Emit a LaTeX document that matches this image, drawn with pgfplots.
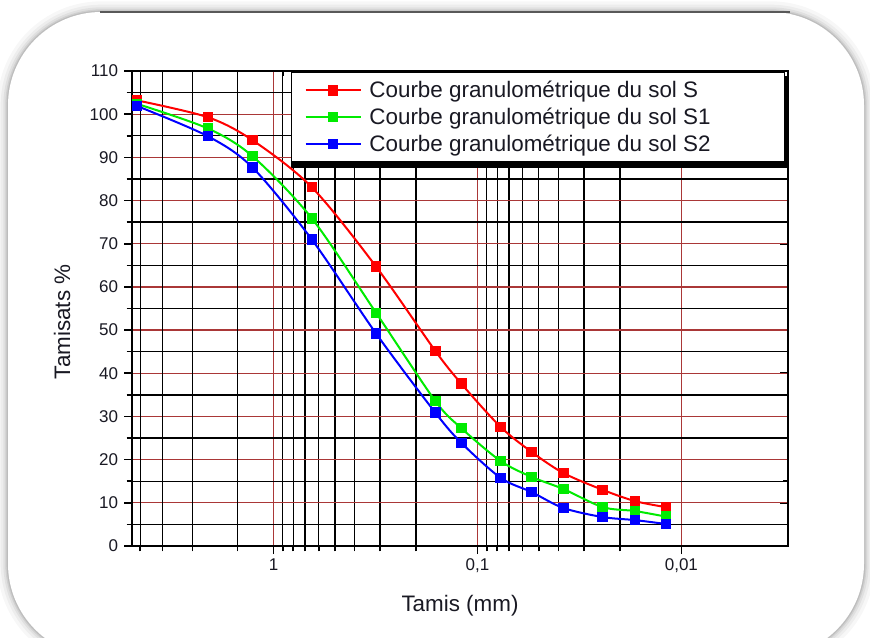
\documentclass[border=0pt]{standalone}
\usepackage{fontspec}
\setmainfont{Liberation Sans}
\usepackage{pgfplots}
\usepackage{pgfplotstable}
\pgfplotsset{compat=1.18}

\definecolor{gridred}{RGB}{170,55,55}
\definecolor{cS}{RGB}{255,0,0}
\definecolor{cSa}{RGB}{0,235,0}
\definecolor{cSb}{RGB}{0,0,255}
\definecolor{txt}{RGB}{25,25,35}

% tamis (mm) vs tamisats (%)
\pgfplotstableread{
d      S     S1    S2
4.67   103.2 102.4 101.9
2.10   99.3  96.7  94.9
1.27   94.0  90.3  87.7
0.649  83.1  75.9  71.0
0.314  64.7  54.0  49.2
0.161  45.2  33.6  30.9
0.120  37.6  27.3  23.9
0.0771 27.6  19.7  15.8
0.0543 21.8  16.0  12.5
0.0379 16.9  13.2  8.8
0.0243 13.0  9.0   6.7
0.0169 10.4  8.1   6.0
0.0119 9.0   6.8   5.1
}\granulo

\begin{document}
\begin{tikzpicture}[x=0.75pt,y=0.75pt]
\useasboundingbox (0,0) rectangle (870,637);
\fill[white] (0,0) rectangle (870,637);
% panel with soft shadow
\foreach \w/\o in {16/0.03,11/0.04,7/0.05,4/0.07,2/0.09}{
  \draw[black, opacity=\o, line width=\w pt, rounded corners=70pt] (8,-20) rectangle (864,625);
}
\fill[white, rounded corners=70pt] (8,-20) rectangle (864,625);
\draw[black!65, line width=1.2pt] (100,625) -- (790,625);

% top / right ticks pointing inwards
\begin{axis}[
  at={(99pt,68.25pt)}, anchor=south west,
  scale only axis, width=492pt, height=356.25pt,
  xmode=log, x dir=reverse,
  xmin=0.003, xmax=4.94, ymin=0, ymax=110,
  ytick={0,10,...,110}, minor y tick num=1,
  xtick={0.01,0.1,1},
  axis line style={line width=1.3pt},
  every tick/.style={black, line width=1.2pt},
  major tick length=6pt, minor tick length=4pt,
  tick align=inside, xtick pos=right, ytick pos=right,
  xticklabels={}, yticklabels={},
]
\end{axis}

\begin{axis}[
  at={(99pt,68.25pt)}, anchor=south west,
  scale only axis, width=492pt, height=356.25pt,
  xmode=log, x dir=reverse,
  xmin=0.003, xmax=4.94, ymin=0, ymax=110,
  ytick={0,10,...,110}, minor y tick num=1,
  xtick={0.01,0.1,1},
  axis line style={line width=1.3pt},
  every tick/.style={black, line width=1.2pt},
  major tick length=6pt, minor tick length=4pt,
  tick align=outside, xtick pos=left, ytick pos=left,
  xticklabels={{0,01},{0,1},1},
  extra x ticks={1.5,2.5,3.5,4.5},
  extra x tick labels={},
  extra x tick style={grid=major, major grid style={black, line width=1pt}, major tick length=4pt},
  grid=both,
  major grid style={gridred, line width=1pt},
  minor grid style={black, line width=1pt},
  tick label style={font=\fontsize{12.75}{15}\selectfont, text=txt},
  yticklabel style={xshift=-1pt},
  /pgf/number format/assume math mode=true,
  xlabel={Tamis (mm)}, ylabel={Tamisats \%},
  label style={font=\fontsize{16.8}{20}\selectfont, text=txt},
  xlabel style={at={(axis description cs:0.5,-0.126)}, anchor=center},
  ylabel style={at={(axis description cs:-0.1067,0.472)}, anchor=center},
  legend cell align=left,
  legend style={at={(0.995,0.998)}, anchor=north east,
    draw=black, line width=0.9pt, fill=white,
    font=\fontsize{16.8}{19}\selectfont, text=txt,
    inner xsep=10pt, inner ysep=5.5pt, row sep=4.2pt, column sep=5pt,
    nodes={inner sep=1pt}},
  legend image code/.code={\draw[mark repeat=2,mark phase=2] plot coordinates {(0pt,0pt) (20.6pt,0pt) (41.2pt,0pt)};},
]
% legend shadow
\fill[black] (axis description cs:0.2424,0.7958) rectangle (axis description cs:1.0,0.9895);
\addplot[cS, line width=1.5pt, smooth, mark=square*, mark size=3.2pt, mark options={solid}] table[x=d, y=S] {\granulo};
\addlegendentry{\makebox[300pt][l]{Courbe granulométrique du sol S}}
\addplot[cSa, line width=1.5pt, smooth, mark=square*, mark size=3.2pt, mark options={solid}] table[x=d, y=S1] {\granulo};
\addlegendentry{\makebox[300pt][l]{Courbe granulométrique du sol S1}}
\addplot[cSb, line width=1.5pt, smooth, mark=square*, mark size=3.2pt, mark options={solid}] table[x=d, y=S2] {\granulo};
\addlegendentry{\makebox[300pt][l]{Courbe granulométrique du sol S2}}
\end{axis}
\end{tikzpicture}
\end{document}
